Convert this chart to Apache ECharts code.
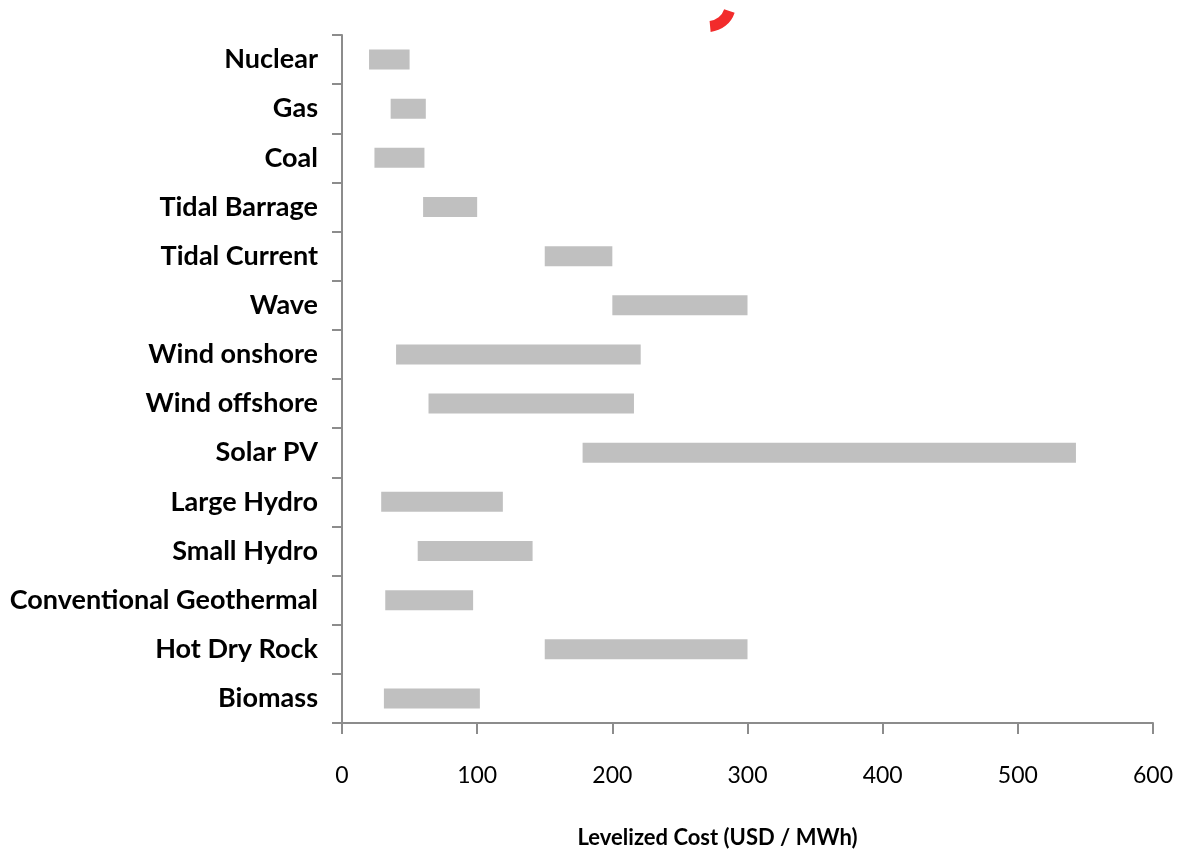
<!DOCTYPE html>
<html>
<head>
<meta charset="utf-8">
<script src="https://cdn.jsdelivr.net/npm/echarts@6/dist/echarts.min.js"></script>
<style>
  html, body { margin: 0; padding: 0; background: #fff; }
  #chart { width: 1177px; height: 856px; }
</style>
</head>
<body>
<div id="chart"></div>
<script>
// Technologies, top to bottom
const categories = [
  'Nuclear', 'Gas', 'Coal', 'Tidal Barrage', 'Tidal Current', 'Wave',
  'Wind onshore', 'Wind offshore', 'Solar PV', 'Large Hydro', 'Small Hydro',
  'Conventional Geothermal', 'Hot Dry Rock', 'Biomass'
];
// Lower and upper end of each cost range (USD / MWh)
const lowCost  = [20, 36, 24, 60, 150, 200, 40, 64, 178, 29, 56, 32, 150, 31];
const highCost = [50, 62, 61, 100, 200, 300, 221, 216, 543, 119, 141, 97, 300, 102];
const xTicks = { min: 0, max: 600, interval: 100 };

const spanCost = highCost.map((h, i) => h - lowCost[i]);

const axisGray = '#8c8c8c';
const chart = echarts.init(document.getElementById('chart'), null, { renderer: 'canvas' });

chart.setOption({
  animation: false,
  backgroundColor: '#ffffff',
  grid: { left: 342, right: 24, top: 35, bottom: 133, containLabel: false },
  xAxis: {
    type: 'value',
    min: xTicks.min, max: xTicks.max, interval: xTicks.interval,
    name: 'Levelized Cost (USD / MWh)',
    nameLocation: 'middle',
    nameGap: 104,
    nameTextStyle: {
      fontFamily: 'Lato', fontWeight: 'bold', fontSize: 22, color: '#000',
      padding: [0, 60, 0, 0]
    },
    axisLine: { show: true, lineStyle: { color: axisGray, width: 2 } },
    axisTick: { show: true, length: 11, lineStyle: { color: axisGray, width: 2 } },
    axisLabel: { margin: 41, fontFamily: 'Lato', fontSize: 23, color: '#000' },
    splitLine: { show: false }
  },
  yAxis: {
    type: 'category',
    data: categories,
    inverse: true,
    axisLine: { show: true, lineStyle: { color: axisGray, width: 2 } },
    axisTick: { show: true, length: 10, lineStyle: { color: axisGray, width: 2 } },
    axisLabel: {
      margin: 24, fontFamily: 'Lato', fontWeight: 'bold', fontSize: 27, color: '#000',
      padding: [4, 0, 0, 0]
    },
    splitLine: { show: false }
  },
  series: [
    {
      name: 'base',
      type: 'bar',
      stack: 'range',
      data: lowCost,
      barWidth: 20,
      itemStyle: { color: 'transparent' },
      silent: true
    },
    {
      name: 'range',
      type: 'bar',
      stack: 'range',
      data: spanCost,
      barWidth: 20,
      itemStyle: { color: '#c0c0c0' }
    }
  ],
  graphic: [
    {
      type: 'sector',
      shape: { cx: 708, cy: 4, r0: 17, r: 28, startAngle: Math.PI * 0.1, endAngle: Math.PI * 0.47 },
      style: { fill: '#f22b2b' }
    }
  ]
});
</script>
</body>
</html>
